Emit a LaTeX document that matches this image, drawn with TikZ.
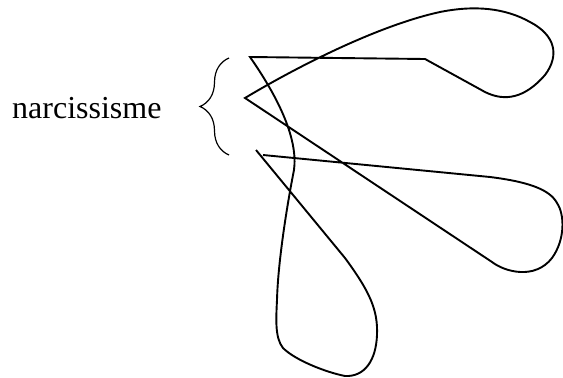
\documentclass[tikz,border=0pt]{standalone}
\usepackage{fontspec}
\setmainfont{Liberation Serif}
\usetikzlibrary{decorations.pathreplacing}

\begin{document}
\begin{tikzpicture}[x=1pt,y=-1pt]
    \tikzset{ln/.style={line width=1.9pt,line join=miter},
             br/.style={line width=1.2pt,decorate,decoration={brace,amplitude=29pt}}}
    \useasboundingbox (0,0) rectangle (563,378);
    \node[anchor=base west,inner sep=0pt,font=\fontsize{32}{36}\selectfont] (lbl) at (12,118) {narcissisme};
    \draw[br] (229,155) -- (229,58);
    % three loops, one stroke
    \draw[ln] (256,150) -- (345,258) .. controls (370,292) and (378,310) .. (377,335)
        .. controls (376,360) and (365,377) .. (345,376)
        .. controls (325,372) and (295,360) .. (283,348)
        .. controls (275,338) and (276,320) .. (277,300)
        .. controls (278,260) and (288,200) .. (294,170)
        .. controls (298,140) and (280,100) .. (250,57)
        -- (425,59) -- (485,92)
        .. controls (505,102) and (525,98) .. (545,75)
        .. controls (560,55) and (555,35) .. (530,22)
        .. controls (505,8) and (475,5) .. (440,12)
        .. controls (380,25) and (300,65) .. (245,98)
        -- (492,262)
        .. controls (505,272) and (535,280) .. (552,258)
        .. controls (565,240) and (565,215) .. (557,203)
        .. controls (550,190) and (530,182) .. (490,177)
        -- (263,155);
\end{tikzpicture}
\end{document}
